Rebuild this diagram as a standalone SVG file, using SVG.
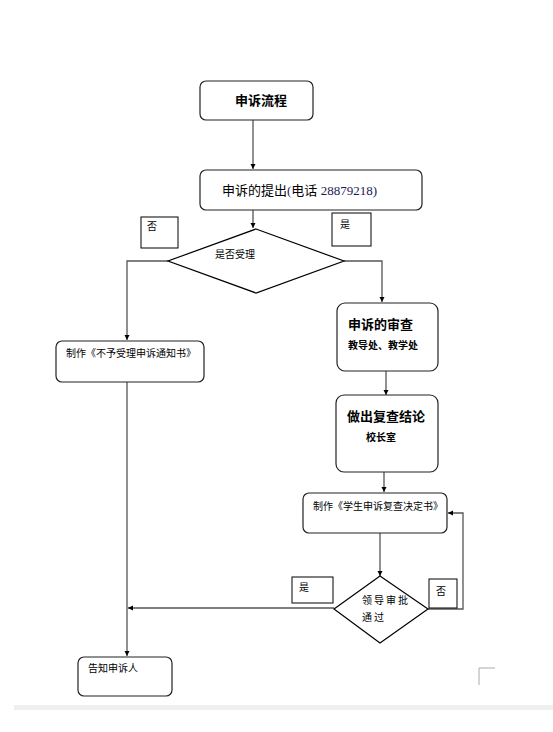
<svg xmlns="http://www.w3.org/2000/svg" width="553" height="732" viewBox="0 0 553 732">
<style>
.box{fill:#fff;stroke:#222;stroke-width:1.2}
.lbl{fill:#fff;stroke:#000;stroke-width:1}
.dia{fill:#fff;stroke:#000;stroke-width:1.2}
.con{fill:none;stroke:#555;stroke-width:1.3}
text{font-family:"Liberation Sans","Noto Sans CJK SC",sans-serif;fill:#000}
.t{font-size:11px}
.s{font-size:10px}
.b{font-weight:bold}
.num{font-family:"Liberation Serif","Noto Sans CJK SC",serif;fill:#1a1a55}
</style>
<defs>
<marker id="ah" markerWidth="6" markerHeight="6" refX="5" refY="3" orient="auto" markerUnits="userSpaceOnUse">
<path d="M0,0.5 L5,3 L0,5.5 Z" fill="#000"/>
</marker>
</defs>
<rect width="553" height="732" fill="#fff"/>
<rect x="14" y="705" width="539" height="5" fill="#efefef"/>
<path d="M479,685 V668 H495" fill="none" stroke="#aaa" stroke-width="1"/>

<g id="connectors">
<path class="con" d="M253,120 V169" marker-end="url(#ah)"/>
<path class="con" d="M253,210 V228" marker-end="url(#ah)"/>
<path class="con" d="M168,261 H127 V340" marker-end="url(#ah)"/>
<path class="con" d="M344,261 H382 V302" marker-end="url(#ah)"/>
<path class="con" d="M386,371 V395" marker-end="url(#ah)"/>
<path class="con" d="M384,472 V492" marker-end="url(#ah)"/>
<path class="con" d="M380,533 V576" marker-end="url(#ah)"/>
<path class="con" d="M428,609 H463 V513 H448" marker-end="url(#ah)"/>
<path class="con" d="M334,608 H128" marker-end="url(#ah)"/>
<path class="con" d="M127,382 V656" marker-end="url(#ah)"/>
</g>

<g id="n-start">
<rect class="box" x="200" y="81" width="113" height="39" rx="6"/>
<text x="261" y="105" class="b" font-size="13" text-anchor="middle">申诉流程</text>
</g>
<g id="n-submit">
<rect class="box" x="200" y="170" width="222" height="40" rx="6"/>
<text x="222" y="195" font-size="13">申诉的提出<tspan class="num">(</tspan>电话<tspan class="num"> 28879218)</tspan></text>
</g>
<g id="l-no1">
<rect class="lbl" x="141" y="217" width="37" height="31"/>
<text x="147" y="230" class="s">否</text>
</g>
<g id="l-yes1">
<rect class="lbl" x="332" y="213" width="39" height="33"/>
<text x="340" y="228" class="s">是</text>
</g>
<g id="n-accept">
<path class="dia" d="M256,229 L344,261 L256,293 L168,261 Z"/>
<text x="215" y="258" class="s">是否受理</text>
</g>
<g id="n-reject">
<rect class="box" x="56" y="341" width="148" height="41" rx="6"/>
<text x="66" y="357" class="s">制作《不予受理申诉通知书》</text>
</g>
<g id="n-review">
<rect class="box" x="337" y="303" width="101" height="68" rx="8"/>
<text x="348" y="329" class="b" font-size="13">申诉的审查</text>
<text x="348" y="349" class="b s">教导处、教学处</text>
</g>
<g id="n-conclude">
<rect class="box" x="336" y="395" width="102" height="77" rx="8"/>
<text x="347" y="421" class="b" font-size="13">做出复查结论</text>
<text x="366" y="441" class="b s">校长室</text>
</g>
<g id="n-decision">
<rect class="box" x="303" y="493" width="144" height="40" rx="6"/>
<text x="313" y="510" class="s">制作《学生申诉复查决定书》</text>
</g>
<g id="n-approve">
<path class="dia" d="M380,576 L428,609 L380,643 L334,609 Z"/>
<text x="362" y="604" class="s" letter-spacing="2">领导审批</text>
<text x="362" y="621" class="s" letter-spacing="2">通过</text>
</g>
<g id="l-yes2">
<rect class="lbl" x="292" y="577" width="41" height="26"/>
<text x="299" y="591" class="s">是</text>
</g>
<g id="l-no2">
<rect class="lbl" x="429" y="579" width="28" height="29"/>
<text x="436" y="595" class="s">否</text>
</g>
<g id="n-notify">
<rect class="box" x="78" y="657" width="94" height="39" rx="6"/>
<text x="88" y="672" class="s">告知申诉人</text>
</g>
</svg>
